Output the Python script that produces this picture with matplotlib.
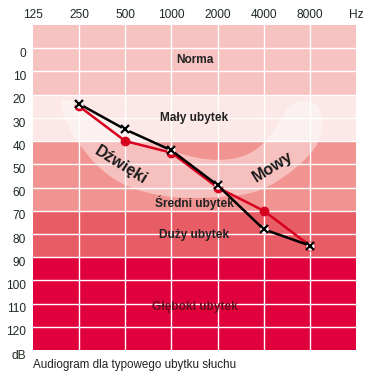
import numpy as np
import matplotlib
matplotlib.use("Agg")
import matplotlib.pyplot as plt
from matplotlib.patches import Polygon
from matplotlib.transforms import ScaledTranslation

plt.rcParams['font.family'] = ['Liberation Sans', 'DejaVu Sans']

# frequencies (Hz) and hearing thresholds (dB)
freqs = [250, 500, 1000, 2000, 4000, 8000]
x_ticks = ["125", "250", "500", "1000", "2000", "4000", "8000", "Hz"]
y_ticks = ["0", "10", "20", "30", "40", "50", "60", "70", "80", "90", "100", "110", "120", "dB"]
black_db = [24, 35, 44, 59, 78, 85]
red_db = [25, 40, 45, 60, 70, 85]

# loss bands: (from dB, to dB, colour, label, label dB)
band_lo = [-10, 20, 40, 70, 90]
band_hi = [20, 40, 70, 90, 130]
band_colors = ["#f6c3c1", "#fbe8e7", "#f19390", "#e85c66", "#e0003c"]
band_labels = ["Norma", "Mały ubytek", "Średni ubytek", "Duży ubytek", "Głęboki ubytek"]
band_label_db = [5, 30, 66.5, 80.5, 111.5]
band_label_colors = ["#222222", "#222222", "#222222", "#222222", "#6a0a1e"]

# "speech banana" outline (octave index, dB)
banana_x = [0.59, 0.69, 0.95, 1.34, 1.89, 2.75, 3.62, 4.77, 5.42, 5.94, 6.22, 6.29, 6.18, 5.90,
            5.57, 5.42, 5.07, 4.64, 4.05, 3.45, 2.86, 2.32, 1.45, 0.91, 0.63]
banana_db = [22.6, 31.3, 40.0, 50.0, 58.7, 63.9, 64.8, 63.0, 56.1, 47.4, 40.0, 31.3, 24.3, 22.2,
             23.9, 29.0, 40.0, 46.5, 48.5, 47.0, 43.0, 37.8, 29.1, 23.5, 21.7]


def octave(f):
    return np.log2(np.array(f) / 125.0)


def chaikin(pts, n=3):
    # corner cutting to round off the outline
    for _ in range(n):
        q = 0.75 * pts + 0.25 * np.roll(pts, -1, axis=0)
        r = 0.25 * pts + 0.75 * np.roll(pts, -1, axis=0)
        pts = np.empty((2 * len(q), 2))
        pts[0::2] = q
        pts[1::2] = r
    return pts


fig = plt.figure(figsize=(3.74, 3.80), dpi=100)
ax = fig.add_axes([0.0882, 0.0789, 0.8636, 0.8553])

for lo, hi, c in zip(band_lo, band_hi, band_colors):
    ax.axhspan(lo, hi, color=c, lw=0, zorder=0)

outline = chaikin(np.column_stack([banana_x, banana_db]))
ax.add_patch(Polygon(outline, closed=True, facecolor="white", alpha=0.42, lw=0, zorder=1))

for xv in range(1, 7):
    ax.axvline(xv, color="white", lw=1.0, zorder=2)
for yv in range(0, 130, 10):
    ax.axhline(yv, color="white", lw=1.0, zorder=2)

for lab, yv, c in zip(band_labels, band_label_db, band_label_colors):
    ax.text(3.5, yv, lab, ha="center", va="center", fontsize=8.6, fontweight="bold", color=c, zorder=3)

ax.text(1.9, 50.5, "Dźwięki", rotation=-32, ha="center", va="center",
        fontsize=11.5, fontweight="bold", color="#1a1a1a", zorder=3)
ax.text(5.2, 51.0, "Mowy", rotation=32, ha="center", va="center",
        fontsize=11.5, fontweight="bold", color="#1a1a1a", zorder=3)

x = octave(freqs)
ax.plot(x, red_db, color="#d7001f", lw=1.8, marker="o", ms=6, mfc="#d7001f", mec="#d7001f", zorder=4)
ax.plot(x, black_db, color="black", lw=1.8, zorder=5)
ax.plot(x, black_db, ls="none", marker="o", ms=6, mfc="white", mec="none", zorder=6)
ax.plot(x, black_db, ls="none", marker="x", ms=5.5, mew=1.6, color="black", zorder=7)

ax.set_xlim(0, 7)
ax.set_ylim(130, -10)
ax.set_xticks(range(8))
ax.set_xticklabels(x_ticks)
ax.set_yticks(range(0, 140, 10))
ax.set_yticklabels(y_ticks)
ax.xaxis.tick_top()
ax.tick_params(axis="both", length=0, labelsize=8.6, colors="#1e2a22")
ax.tick_params(axis="x", pad=3)
ax.tick_params(axis="y", pad=5)
for lbl in ax.get_yticklabels():
    lbl.set_transform(lbl.get_transform() + ScaledTranslation(0, -3 / 72, fig.dpi_scale_trans))
for s in ax.spines.values():
    s.set_visible(False)

fig.text(33 / 374, 1 - 365 / 380, "Audiogram dla typowego ubytku słuchu",
         ha="left", va="center", fontsize=8.4, color="#222222")

fig.savefig("out.png", dpi=100)
